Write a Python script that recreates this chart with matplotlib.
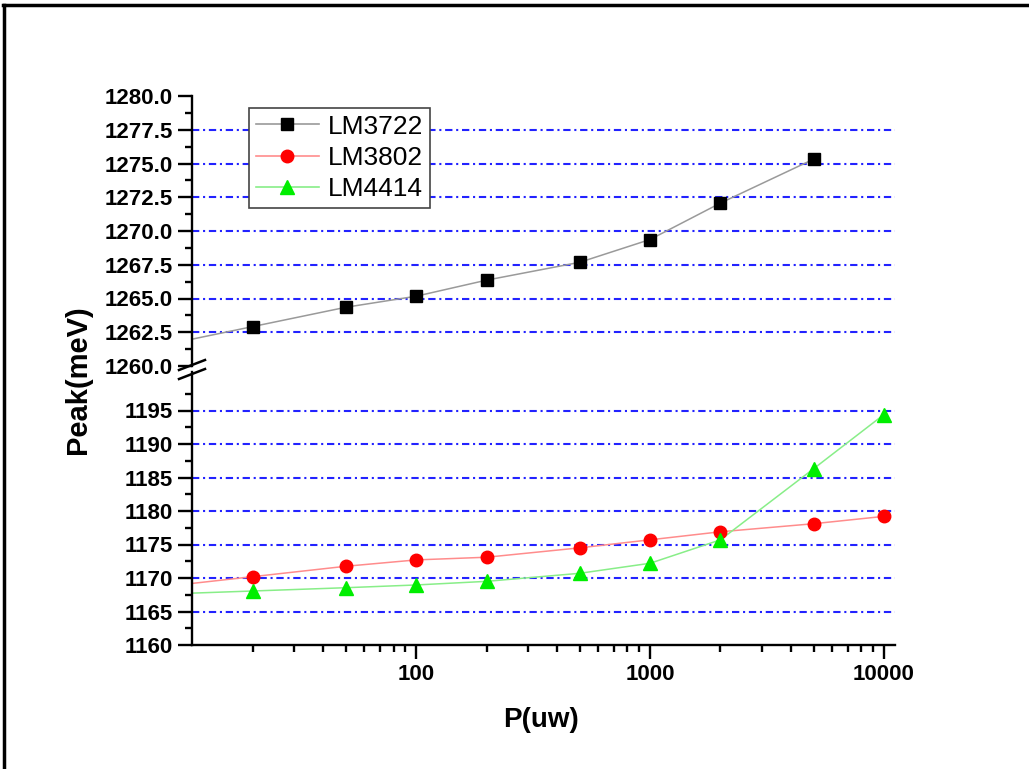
import numpy as np
import matplotlib
matplotlib.use('Agg')
import matplotlib.pyplot as plt
from matplotlib.lines import Line2D
from matplotlib.ticker import LogLocator, FixedLocator, FuncFormatter, NullFormatter, FormatStrFormatter

plt.rcParams['font.family'] = ['Liberation Sans', 'DejaVu Sans']
plt.rcParams['font.weight'] = 'bold'

# 激发功率 (uW) 与峰位 (meV)
power = [20, 50, 100, 200, 500, 1000, 2000, 5000, 10000]
lm3722 = [1262.92, 1264.35, 1265.17, 1266.36, 1267.68, 1269.37, 1272.07, 1275.32]
lm3802 = [1170.2, 1171.75, 1172.7, 1173.1, 1174.5, 1175.7, 1176.9, 1178.1, 1179.2]
lm4414 = [1168.06, 1168.55, 1168.96, 1169.5, 1170.7, 1172.2, 1175.7, 1186.3, 1194.4]

top_ticks = [1260.0, 1262.5, 1265.0, 1267.5, 1270.0, 1272.5, 1275.0, 1277.5, 1280.0]
bot_ticks = [1160, 1165, 1170, 1175, 1180, 1185, 1190, 1195]
x_ticks = [100, 1000, 10000]

W, H = 1029, 769
XMIN, XMAX = 11.0, 11150.0


def fx(px):
    return px / W


def fy(py):
    return 1 - py / H


def extend_left(x, y, x0):
    # 按第一段在对数坐标下的斜率把连线延长到左边界
    lx = np.log10(x)
    k = (y[1] - y[0]) / (lx[1] - lx[0])
    return np.r_[x0, x], np.r_[y[0] + k * (np.log10(x0) - lx[0]), y]


fig = plt.figure(figsize=(W / 100, H / 100), dpi=100)
ax_t = fig.add_axes([fx(192), fy(366), fx(895) - fx(192), (366 - 96) / H])
ax_b = fig.add_axes([fx(192), fy(645), fx(895) - fx(192), (645 - 372) / H])

grid_kw = dict(color='#2222ff', lw=1.5, ls=(0, (3.5, 1.8, 1.0, 1.8)), zorder=1)
for v in top_ticks[1:-1]:
    ax_t.axhline(v, **grid_kw)
for v in bot_ticks[1:]:
    ax_b.axhline(v, **grid_kw)

styles = [
    ('LM3722', lm3722, ax_t, '#9a9a9a', 's', 'black', 8),
    ('LM3802', lm3802, ax_b, '#ff8c8c', 'o', '#ff0000', 9),
    ('LM4414', lm4414, ax_b, '#88ee88', '^', '#00ee00', 10),
]
handles = []
for name, y, ax, lc, mk, mc, ms in styles:
    x = power[:len(y)]
    lx, ly = extend_left(x, y, XMIN)
    ax.plot(lx, ly, color=lc, lw=1.1, zorder=2)
    ax.plot(x, y, ls='none', marker=mk, ms=ms, mfc=mc, mec=mc, zorder=3)
    handles.append(Line2D([], [], color=lc, lw=1.2, marker=mk, ms=ms, mfc=mc, mec=mc))

for ax in (ax_t, ax_b):
    ax.set_xscale('log')
    ax.set_xlim(XMIN, XMAX)
    ax.spines['top'].set_visible(False)
    ax.spines['right'].set_visible(False)
    ax.spines['left'].set_linewidth(1.7)
    ax.spines['bottom'].set_linewidth(1.7)
    ax.tick_params(which='major', direction='out', length=10, width=1.7, labelsize=16, pad=4)
    ax.tick_params(which='minor', direction='out', length=5, width=1.7)
    ax.xaxis.set_major_locator(FixedLocator(x_ticks))
    ax.xaxis.set_minor_locator(LogLocator(base=10, subs=np.arange(2, 10)))
    ax.xaxis.set_minor_formatter(NullFormatter())

ax_t.set_ylim(1260, 1280)
ax_t.yaxis.set_major_locator(FixedLocator(top_ticks))
ax_t.yaxis.set_minor_locator(FixedLocator(np.arange(1261.25, 1280, 2.5)))
ax_t.yaxis.set_major_formatter(FormatStrFormatter('%.1f'))
ax_t.spines['bottom'].set_visible(False)
ax_t.tick_params(axis='x', which='both', bottom=False, labelbottom=False)

ax_b.set_ylim(1160, 1160 + (645 - 372) / 6.7)
ax_b.yaxis.set_major_locator(FixedLocator(bot_ticks))
ax_b.yaxis.set_minor_locator(FixedLocator(np.arange(1162.5, 1199, 5)))
ax_b.yaxis.set_major_formatter(FormatStrFormatter('%d'))
ax_b.xaxis.set_major_formatter(FuncFormatter(lambda v, _: f'{v:g}'))

# 断轴标记
for yy in (365, 374):
    fig.add_artist(Line2D([fx(179), fx(205)], [fy(yy + 5), fy(yy - 5)], color='black', lw=1.8))

leg = ax_t.legend(handles, ['LM3722', 'LM3802', 'LM4414'], loc='upper left',
                  bbox_to_anchor=(fx(249), fy(108)), bbox_transform=fig.transFigure,
                  borderaxespad=0, prop={'family': 'Liberation Sans', 'weight': 'normal', 'size': 19},
                  handlelength=2.4, handletextpad=0.35, labelspacing=0.28, borderpad=0.25,
                  fancybox=False, framealpha=1, edgecolor='#444444')
leg.get_frame().set_linewidth(1.2)

fig.text(fx(78), fy(380), 'Peak(meV)', rotation=90, ha='center', va='center', fontsize=21, weight='bold')
fig.text(fx(541), fy(720), 'P(uw)', ha='center', va='center', fontsize=20, weight='bold')

# 外框
fig.add_artist(Line2D([fx(3), 1], [fy(4.5), fy(4.5)], color='black', lw=2.5))
fig.add_artist(Line2D([fx(4), fx(4)], [fy(4.5), 0], color='black', lw=2.5))

fig.savefig('out.png', dpi=100)
